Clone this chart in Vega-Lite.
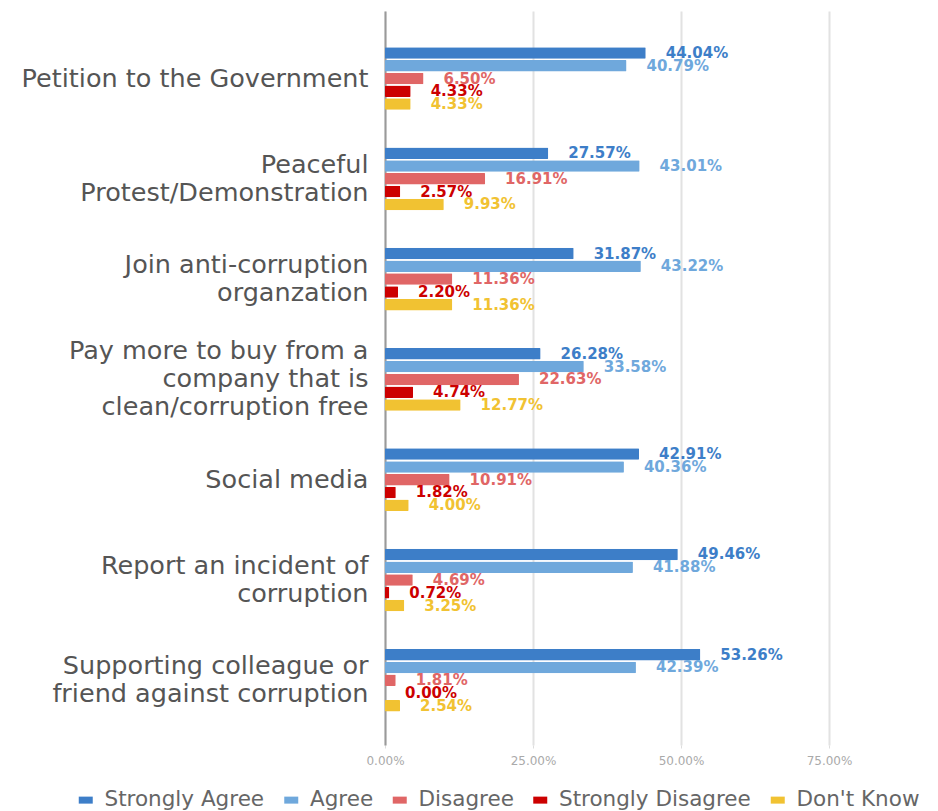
{
  "$schema": "https://vega.github.io/schema/vega-lite/v6.json",
  "width": 444,
  "height": 734,
  "autosize": "none",
  "padding": {"left": 385, "top": 11, "right": 109, "bottom": 66},
  "background": "white",
  "config": {"view": {"stroke": null}, "font": "DejaVu Sans"},
  "data": {
    "values": [
      {"category": "Petition to the Government", "response": "Strongly Agree", "share": 0.4404},
      {"category": "Petition to the Government", "response": "Agree", "share": 0.4079},
      {"category": "Petition to the Government", "response": "Disagree", "share": 0.0650},
      {"category": "Petition to the Government", "response": "Strongly Disagree", "share": 0.0433},
      {"category": "Petition to the Government", "response": "Don't Know", "share": 0.0433},
      {"category": "Peaceful Protest/Demonstration", "response": "Strongly Agree", "share": 0.2757},
      {"category": "Peaceful Protest/Demonstration", "response": "Agree", "share": 0.4301},
      {"category": "Peaceful Protest/Demonstration", "response": "Disagree", "share": 0.1691},
      {"category": "Peaceful Protest/Demonstration", "response": "Strongly Disagree", "share": 0.0257},
      {"category": "Peaceful Protest/Demonstration", "response": "Don't Know", "share": 0.0993},
      {"category": "Join anti-corruption organzation", "response": "Strongly Agree", "share": 0.3187},
      {"category": "Join anti-corruption organzation", "response": "Agree", "share": 0.4322},
      {"category": "Join anti-corruption organzation", "response": "Disagree", "share": 0.1136},
      {"category": "Join anti-corruption organzation", "response": "Strongly Disagree", "share": 0.0220},
      {"category": "Join anti-corruption organzation", "response": "Don't Know", "share": 0.1136},
      {"category": "Pay more to buy from a company that is clean/corruption free", "response": "Strongly Agree", "share": 0.2628},
      {"category": "Pay more to buy from a company that is clean/corruption free", "response": "Agree", "share": 0.3358},
      {"category": "Pay more to buy from a company that is clean/corruption free", "response": "Disagree", "share": 0.2263},
      {"category": "Pay more to buy from a company that is clean/corruption free", "response": "Strongly Disagree", "share": 0.0474},
      {"category": "Pay more to buy from a company that is clean/corruption free", "response": "Don't Know", "share": 0.1277},
      {"category": "Social media", "response": "Strongly Agree", "share": 0.4291},
      {"category": "Social media", "response": "Agree", "share": 0.4036},
      {"category": "Social media", "response": "Disagree", "share": 0.1091},
      {"category": "Social media", "response": "Strongly Disagree", "share": 0.0182},
      {"category": "Social media", "response": "Don't Know", "share": 0.0400},
      {"category": "Report an incident of corruption", "response": "Strongly Agree", "share": 0.4946},
      {"category": "Report an incident of corruption", "response": "Agree", "share": 0.4188},
      {"category": "Report an incident of corruption", "response": "Disagree", "share": 0.0469},
      {"category": "Report an incident of corruption", "response": "Strongly Disagree", "share": 0.0072},
      {"category": "Report an incident of corruption", "response": "Don't Know", "share": 0.0325},
      {"category": "Supporting colleague or friend against corruption", "response": "Strongly Agree", "share": 0.5326},
      {"category": "Supporting colleague or friend against corruption", "response": "Agree", "share": 0.4239},
      {"category": "Supporting colleague or friend against corruption", "response": "Disagree", "share": 0.0181},
      {"category": "Supporting colleague or friend against corruption", "response": "Strongly Disagree", "share": 0.0000},
      {"category": "Supporting colleague or friend against corruption", "response": "Don't Know", "share": 0.0254}
    ]
  },
  "encoding": {
    "y": {
      "field": "category",
      "type": "nominal",
      "sort": null,
      "scale": {"paddingInner": 0.375, "paddingOuter": 0.347, "align": 0.52},
      "axis": {
        "title": null,
        "domain": true,
        "domainColor": "#9a9a9a",
        "domainWidth": 2,
        "ticks": false,
        "labelFont": "DejaVu Sans",
        "labelFontSize": 25.5,
        "labelColor": "#555555",
        "labelPadding": 17,
        "labelLimit": 500,
        "labelLineHeight": 28,
        "labelOffset": {
          "condition": [
            {"test": "datum.value == 'Pay more to buy from a company that is clean/corruption free'", "value": -28},
            {"test": "datum.value != 'Petition to the Government' && datum.value != 'Social media'", "value": -14}
          ],
          "value": 0
        },
        "labelExpr": "datum.value == 'Peaceful Protest/Demonstration' ? ['Peaceful', 'Protest/Demonstration'] : datum.value == 'Join anti-corruption organzation' ? ['Join anti-corruption', 'organzation'] : datum.value == 'Pay more to buy from a company that is clean/corruption free' ? ['Pay more to buy from a', 'company that is', 'clean/corruption free'] : datum.value == 'Report an incident of corruption' ? ['Report an incident of', 'corruption'] : datum.value == 'Supporting colleague or friend against corruption' ? ['Supporting colleague or', 'friend against corruption'] : datum.value"
      }
    },
    "yOffset": {
      "field": "response",
      "type": "nominal",
      "sort": ["Strongly Agree", "Agree", "Disagree", "Strongly Disagree", "Don't Know"],
      "scale": {"paddingInner": 0.1, "paddingOuter": 0}
    },
    "x": {
      "field": "share",
      "type": "quantitative",
      "scale": {"domain": [0, 0.75], "nice": false},
      "axis": {
        "title": null,
        "format": ".2%",
        "values": [0, 0.25, 0.5, 0.75],
        "domain": false,
        "grid": true,
        "gridColor": "#e2e2e2",
        "gridWidth": 2,
        "tickColor": "#dddddd",
        "tickSize": 3,
        "labelFlush": false,
        "labelFont": "DejaVu Sans",
        "labelFontSize": 12,
        "labelColor": "#aaaaaa",
        "labelPadding": 7
      }
    },
    "color": {
      "field": "response",
      "type": "nominal",
      "sort": ["Strongly Agree", "Agree", "Disagree", "Strongly Disagree", "Don't Know"],
      "scale": {
        "domain": ["Strongly Agree", "Agree", "Disagree", "Strongly Disagree", "Don't Know"],
        "range": ["#3d7ec8", "#6fa8dc", "#e06666", "#cc0000", "#f1c232"]
      },
      "legend": {
        "title": null,
        "orient": "none",
        "direction": "horizontal",
        "legendX": -310,
        "legendY": 778,
        "padding": 0,
        "symbolType": "M-1,-0.5L1,-0.5L1,0.5L-1,0.5Z",
        "symbolSize": 196,
        "symbolStrokeWidth": 0,
        "labelFont": "DejaVu Sans",
        "labelFontSize": 21.5,
        "labelColor": "#666666",
        "labelOffset": 8,
        "columnPadding": 15.5,
        "labelLimit": 400
      }
    }
  },
  "layer": [
    {"mark": {"type": "bar", "cornerRadius": 1}},
    {
      "mark": {"type": "text", "align": "left", "baseline": "middle", "dx": 20, "font": "DejaVu Sans", "fontSize": 15, "fontWeight": "bold"},
      "encoding": {
        "text": {"field": "share", "type": "quantitative", "format": ".2%"}
      }
    }
  ]
}
